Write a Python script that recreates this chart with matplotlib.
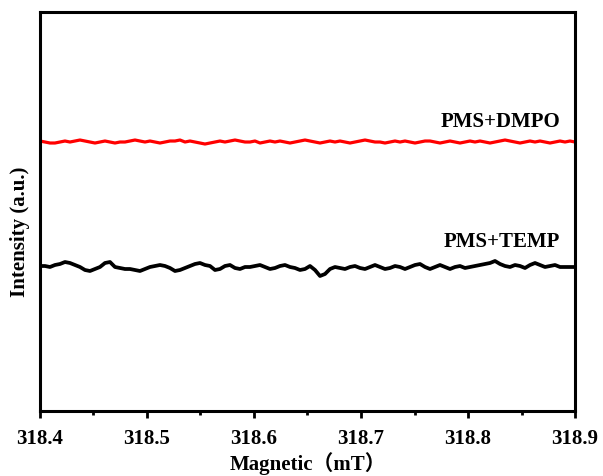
import numpy as np
import matplotlib.pyplot as plt

# intensity (a.u.), evenly spaced over 318.4-318.9 mT
red_dmpo = [270, 269, 268, 268, 269, 270, 269, 270, 271, 270,
            269, 268, 269, 270, 269, 268, 269, 269, 270, 271,
            270, 269, 270, 269, 268, 269, 270, 270, 271, 269,
            270, 269, 268, 267, 268, 269, 270, 269, 270, 271,
            270, 269, 269, 270, 268, 269, 270, 269, 270, 269,
            268, 269, 270, 271, 270, 269, 268, 269, 270, 269,
            270, 269, 268, 269, 270, 271, 270, 269, 269, 268,
            269, 270, 269, 270, 269, 268, 269, 270, 270, 269,
            268, 269, 270, 269, 268, 269, 270, 269, 270, 269,
            268, 269, 270, 271, 270, 269, 268, 269, 270, 269,
            270, 269, 268, 269, 270, 269, 270, 269]
black_temp = [145, 145, 144, 146, 147, 149, 148, 146, 144, 141,
              140, 142, 144, 148, 149, 144, 143, 142, 142, 141,
              140, 142, 144, 145, 146, 145, 143, 140, 141, 143,
              145, 147, 148, 146, 145, 141, 142, 145, 146, 143,
              142, 144, 144, 145, 146, 144, 142, 143, 145, 146,
              144, 143, 141, 142, 145, 141, 135, 137, 142, 144,
              143, 142, 144, 145, 143, 142, 144, 146, 144, 142,
              143, 145, 144, 142, 144, 146, 147, 144, 142, 144,
              146, 144, 142, 144, 145, 143, 144, 145, 146, 147,
              148, 150, 147, 145, 144, 146, 145, 143, 146, 148,
              146, 144, 145, 146, 144, 144, 144, 144]
labels = ['PMS+DMPO', 'PMS+TEMP']
xticks = [318.4, 318.5, 318.6, 318.7, 318.8, 318.9]

serif = ['Liberation Serif', 'DejaVu Serif']
plt.rcParams['font.family'] = serif
plt.rcParams['font.weight'] = 'bold'

fig = plt.figure(figsize=(6.03, 4.77), dpi=100)
ax = fig.add_axes([0.0663, 0.1363, 0.8873, 0.8364])

x_red = np.linspace(xticks[0], xticks[-1], len(red_dmpo))
x_black = np.linspace(xticks[0], xticks[-1], len(black_temp))
ax.plot(x_red, red_dmpo, color='#ff0000', lw=2.3)
ax.plot(x_black, black_temp, color='black', lw=2.7)

ax.text(318.886, 290, labels[0], ha='right', va='center', fontsize=15, fontweight='bold')
ax.text(318.886, 170, labels[1], ha='right', va='center', fontsize=15, fontweight='bold')

ax.set_xlim(xticks[0], xticks[-1])
ax.set_ylim(0, 399)
ax.set_xticks(xticks)
ax.set_xticklabels([f'{t:.1f}' for t in xticks])
ax.set_xticks(np.arange(318.45, 318.9, 0.1), minor=True)
ax.set_yticks([])
ax.tick_params(axis='x', which='major', direction='out', length=5, width=2,
               labelsize=15, pad=7)
ax.tick_params(axis='x', which='minor', direction='out', length=3, width=2)
for s in ax.spines.values():
    s.set_linewidth(2.2)

ax.set_xlabel('Magnetic（mT）', fontsize=15, fontweight='bold',
              family=['Liberation Serif', 'Noto Sans CJK SC'], va='center')
ax.xaxis.set_label_coords(0.5, -0.128)
ax.set_ylabel('Intensity (a.u.)', fontsize=15, fontweight='bold', va='center')
ax.yaxis.set_label_coords(-0.037, 0.451)

fig.savefig('out.png', dpi=100)
